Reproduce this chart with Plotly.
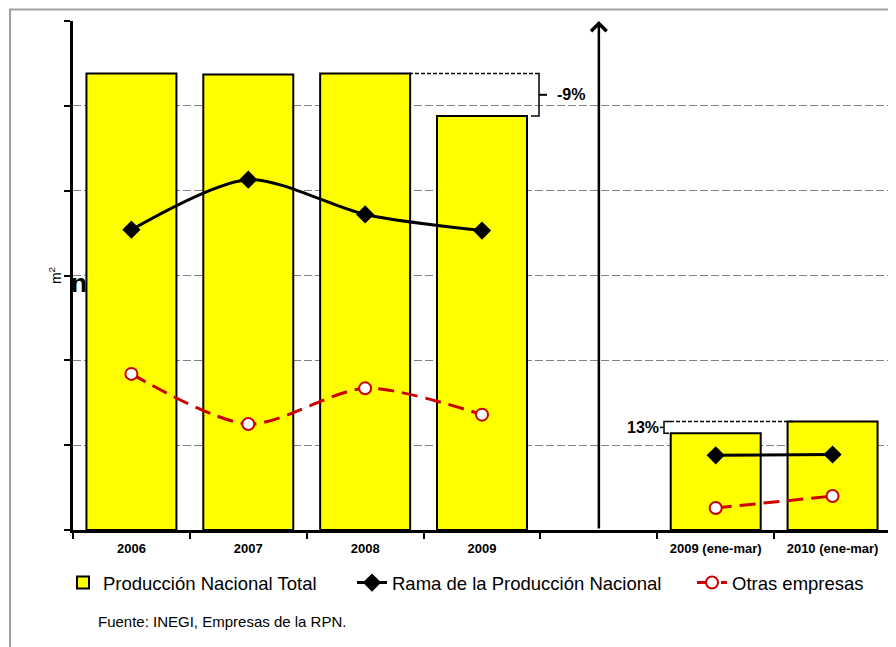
import plotly.graph_objects as go

# ---- data (units = grid steps) ----
categories = ["2006", "2007", "2008", "2009", " ", "2009 (ene-mar)", "2010 (ene-mar)"]
produccion_total = [5.38, 5.37, 5.38, 4.88, None, 1.14, 1.28]
rama_produccion = [3.54, 4.13, 3.72, 3.53, None, 0.88, 0.89]
otras_empresas = [1.84, 1.25, 1.67, 1.36, None, 0.26, 0.40]

names = ["Producción Nacional Total", "Rama de la Producción Nacional", "Otras empresas"]
pct_annual = "-9%"
pct_quarter = "13%"
source_text = "Fuente: INEGI, Empresas de la RPN."

FONT = "Liberation Sans, Arial, sans-serif"
OFF = 8                     # page body margin
W, H = 896 - OFF, 647 - OFF
# plot area in page pixels: x 73..891, y 21..530
PX0, PX1, PY0, PY1 = 73, 891, 21, 530
L, T = PX0 - OFF, PY0 - OFF
R = W - (PX1 - OFF)
B = H - (PY1 - OFF)
plot_w = PX1 - PX0
plot_h = PY1 - PY0


def px(xp):
    return (xp - PX0) / plot_w


def py(yp):
    return (PY1 - yp) / plot_h


def cx(xp):
    return (xp - OFF) / W


def cy(yp):
    return 1 - (yp - OFF) / H


fig = go.Figure()
fig.add_trace(go.Bar(
    x=categories, y=produccion_total, name=names[0],
    marker=dict(color="#FFFF00", line=dict(color="black", width=2)),
    legend="legend",
))
fig.add_trace(go.Scatter(
    x=categories, y=rama_produccion, name=names[1], mode="lines+markers",
    line=dict(color="black", width=3, shape="spline", smoothing=0.8),
    marker=dict(symbol="diamond", size=14, color="black"),
    connectgaps=False, legend="legend2",
))
fig.add_trace(go.Scatter(
    x=categories, y=otras_empresas, name=names[2], mode="lines+markers",
    line=dict(color="#cc0000", width=3, dash="16px,8px", shape="spline", smoothing=0.8),
    marker=dict(symbol="circle", size=12, color="white", line=dict(color="#cc0000", width=2)),
    connectgaps=False, legend="legend3",
))

shapes = []
# outer frame
shapes.append(dict(type="rect", xref="paper", yref="paper",
                   x0=px(10), x1=1.3, y0=-0.6, y1=py(9.5),
                   line=dict(color="#a0a0a0", width=2), fillcolor="rgba(0,0,0,0)"))

# -9% bracket
yt, yb = produccion_total[2], produccion_total[3]
ym = (yt + yb) / 2
shapes.append(dict(type="line", xref="paper", yref="y", x0=px(409), x1=px(535), y0=yt, y1=yt,
                   line=dict(color="black", width=1.5, dash="4px,2px")))
shapes.append(dict(type="path", xref="paper", yref="y",
                   path=f"M{px(535)},{yt} L{px(539)},{yt} L{px(539)},{yb} L{px(531)},{yb}",
                   line=dict(color="black", width=1.5)))
shapes.append(dict(type="line", xref="paper", yref="y", x0=px(539), x1=px(547), y0=ym, y1=ym,
                   line=dict(color="black", width=2)))

# 13% bracket
qt, qb = produccion_total[6], produccion_total[5]
qm = (qt + qb) / 2
shapes.append(dict(type="line", xref="paper", yref="y", x0=px(670), x1=px(793), y0=qt, y1=qt,
                   line=dict(color="black", width=1.5, dash="4px,2px")))
shapes.append(dict(type="path", xref="paper", yref="y",
                   path=f"M{px(670)},{qt} L{px(664)},{qt} L{px(664)},{qb} L{px(669)},{qb}",
                   line=dict(color="black", width=1.5)))
shapes.append(dict(type="line", xref="paper", yref="y", x0=px(664), x1=px(660), y0=qm, y1=qm,
                   line=dict(color="black", width=1.5)))

annotations = [
    # central vertical arrow
    dict(x=4, y=6, ax=4, ay=0, xref="x", yref="y", axref="x", ayref="y",
         text="", showarrow=True, arrowhead=4, arrowsize=1.2, arrowwidth=2.5, arrowcolor="black",
         standoff=0),
    dict(x=px(555), y=ym, xref="paper", yref="y", text="<b>" + pct_annual + "</b>",
         showarrow=False, xanchor="left", yanchor="middle",
         font=dict(family=FONT, size=16, color="black")),
    dict(x=px(661), y=qm, xref="paper", yref="y", text="<b>" + pct_quarter + "</b>",
         showarrow=False, xanchor="right", yanchor="middle",
         font=dict(family=FONT, size=16, color="black")),
    dict(x=px(79), y=py(283), xref="paper", yref="paper", text="<b>n</b>",
         showarrow=False, xanchor="center", yanchor="middle",
         font=dict(family=FONT, size=26, color="black")),
    dict(x=px(96), y=py(621), xref="paper", yref="paper", text=source_text,
         showarrow=False, xanchor="left", yanchor="middle",
         font=dict(family=FONT, size=15, color="black")),
]

leg_common = dict(orientation="h", yref="container", xref="container", y=cy(583),
                  yanchor="middle", xanchor="left", bgcolor="rgba(0,0,0,0)",
                  font=dict(family=FONT, size=18.5, color="black"))

fig.update_layout(
    width=W, height=H,
    margin=dict(l=L, r=R, t=T, b=B, autoexpand=False),
    paper_bgcolor="white", plot_bgcolor="white",
    bargap=0.23,
    showlegend=True,
    legend=dict(x=cx(103 - 40), **leg_common),
    legend2=dict(x=cx(392 - 40), **leg_common),
    legend3=dict(x=cx(732 - 40), **leg_common),
    shapes=shapes,
    annotations=annotations,
    font=dict(family=FONT, color="black"),
)
fig.update_xaxes(
    type="category", categoryorder="array", categoryarray=categories,
    showline=True, linecolor="black", linewidth=3,
    ticks="outside", tickson="boundaries", ticklen=6, tickwidth=2, tickcolor="black",
    tickfont=dict(family=FONT, size=13, color="black", weight="bold"),
    ticklabelstandoff=4,
    showgrid=False, zeroline=False, range=[-0.5, 6.5],
)
fig.update_yaxes(
    range=[0, 6], dtick=1, tick0=0,
    showline=True, linecolor="black", linewidth=3,
    ticks="outside", ticklen=6, tickwidth=2, tickcolor="black",
    showticklabels=False,
    showgrid=True, gridcolor="#808080", gridwidth=1, griddash="8px,3px",
    zeroline=False,
    title=dict(text="m<sup>2</sup>", font=dict(family=FONT, size=14, color="black"), standoff=0),
)

fig.write_html("out.html")
